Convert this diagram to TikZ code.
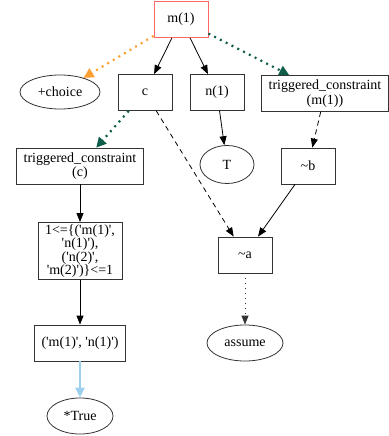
\documentclass[tikz,border=0pt]{standalone}
\usepackage{fontspec}
\setmainfont{Liberation Serif}[Ligatures=TeXOff]
\usetikzlibrary{
arrows.meta,
positioning,
shapes
}
\tikzset{>={Triangle[length=9pt,width=7pt]}}
\definecolor{chooseorange}{HTML}{FFA033}
\definecolor{triggreen}{HTML}{0F5E4B}
\definecolor{truthblue}{HTML}{9DD0EF}
\definecolor{rootred}{HTML}{FF6666}
\tikzset{
	box/.style={draw=black!80, line width=0.8pt, minimum width=54pt, minimum height=36pt, inner xsep=7pt, inner ysep=2pt, align=center, font=\fontsize{14}{14.5}\selectfont},
	oval/.style={draw=black!80, line width=0.8pt, ellipse, inner sep=0pt, font=\fontsize{14}{14.5}\selectfont},
	plain/.style={->, draw=black, line width=0.8pt},
	lazy/.style={->, draw=black, line width=0.8pt, dash pattern=on 5pt off 4pt},
	assumed/.style={->, draw=black!80, line width=0.8pt, dash pattern=on 1pt off 4pt},
	chosen/.style={-{Triangle[length=10pt,width=10pt]}, draw=chooseorange, line width=2.2pt, dash pattern=on 2pt off 4.5pt},
	triggered/.style={-{Triangle[length=10pt,width=10pt]}, draw=triggreen, line width=2.2pt, dash pattern=on 2pt off 4.5pt},
	truth/.style={-{Triangle[length=10pt,width=9pt]}, draw=truthblue, line width=2.6pt}
}
\begin{document}
\begin{tikzpicture}[x=1pt, y=1pt]
	\useasboundingbox (0,0) rectangle (388,-436);
	\node[box, draw=rootred] (m1) at (181,-19.5) {m(1)};
	\node[oval, minimum width=80pt, minimum height=34pt] (choice) at (60,-92) {+choice};
	\node[box] (c) at (145,-92.5) {c};
	\node[box] (n1) at (217,-92.5) {n(1)};
	\node[box] (trigm) at (325,-93.5) {triggered\_constraint\\(m(1))};
	\node[box] (trigc) at (80,-166) {triggered\_constraint\\(c)};
	\node[oval, minimum width=54pt, minimum height=38pt] (T) at (227,-164.5) {T};
	\node[box] (nb) at (308,-166) {\textasciitilde b};
	\node[box, font=\fontsize{14}{13.5}\selectfont] (card) at (80,-251) {1<=\{('m(1)',\\'n(1)'),\\('n(2)',\\'m(2)')\}<=1};
	\node[box] (na) at (245,-255) {\textasciitilde a};
	\node[box] (pair) at (80,-343) {('m(1)', 'n(1)')};
	\node[oval, minimum width=76pt, minimum height=36pt] (assume) at (245,-343) {assume};
	\node[oval, minimum width=66pt, minimum height=36pt] (true) at (80,-416) {*True};

	\draw[chosen] (m1) -- (choice);
	\draw[plain] (m1) -- (c);
	\draw[plain] (m1) -- (n1);
	\draw[triggered] (m1) -- (trigm);
	\draw[triggered] (c) -- (trigc);
	\draw[lazy] (c) -- (na);
	\draw[plain] (n1) -- (T);
	\draw[lazy] (trigm) -- (nb);
	\draw[plain] (trigc) -- (card);
	\draw[plain] (nb) -- (na);
	\draw[plain] (card) -- (pair);
	\draw[assumed] (na) -- (assume);
	\draw[truth] (pair) -- (true);
\end{tikzpicture}
\end{document}
